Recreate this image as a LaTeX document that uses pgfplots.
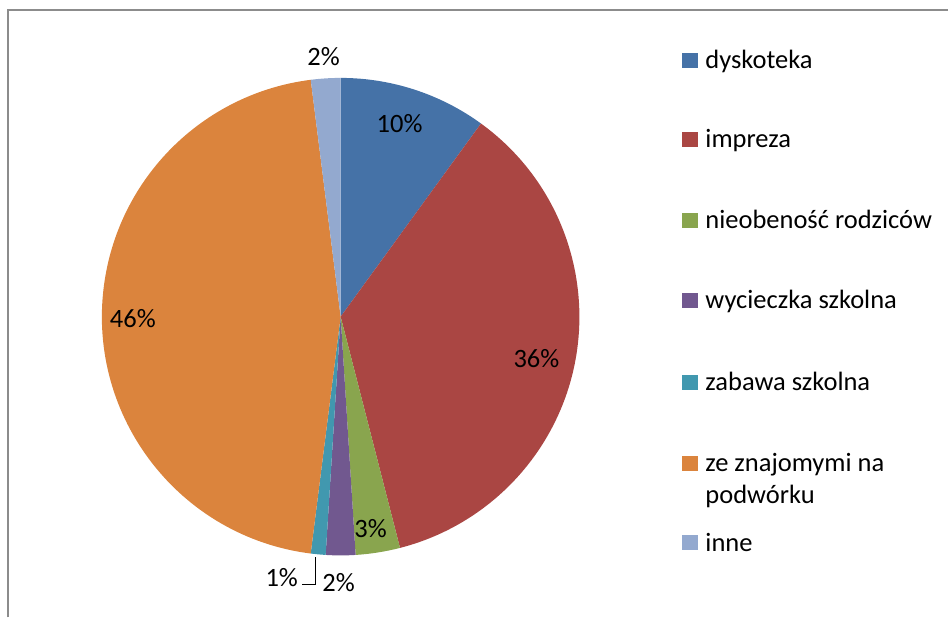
\documentclass[border=0pt]{standalone}
\usepackage{pgfplots}
\usepackage{pgfplotstable}
\pgfplotsset{compat=1.18}
\usepackage{fontspec}
\setmainfont{Carlito}
\definecolor{c1}{HTML}{4572A7}
\definecolor{c2}{HTML}{AA4643}
\definecolor{c3}{HTML}{89A54E}
\definecolor{c4}{HTML}{71588F}
\definecolor{c5}{HTML}{4198AF}
\definecolor{c6}{HTML}{DB843D}
\definecolor{c7}{HTML}{93A9CF}
\definecolor{framegray}{HTML}{8C8C8C}
\pgfplotstableread{
value color
10 c1
36 c2
3 c3
2 c4
1 c5
46 c6
2 c7
}\piedata
\newcommand{\legitem}[3]{%
  \fill[#2] (axis cs:683,{619-#1}) rectangle (axis cs:699,{634-#1});
  \node[anchor=base west, inner sep=0pt] at (axis cs:706,{618-#1}) {#3};}
\begin{document}
\begin{tikzpicture}
\fontsize{26.5}{31}\selectfont
\begin{axis}[x=1pt,y=1pt,xmin=0,xmax=949,ymin=0,ymax=618,
  hide axis, clip=false, scale only axis, anchor=origin, at={(0,0)}]
\path (axis cs:0,0) rectangle (axis cs:949,618);
\pgfmathsetmacro\startang{90}
\pgfplotsforeachungrouped \i in {0,...,6}{%
  \pgfplotstablegetelem{\i}{value}\of\piedata \let\slv\pgfplotsretval
  \pgfplotstablegetelem{\i}{color}\of\piedata \let\slcol\pgfplotsretval
  \pgfmathsetmacro\endang{\startang-3.6*\slv}%
  \edef\temp{\noexpand\fill[\slcol] (axis cs:341,301) -- ++(\startang:239pt) arc[start angle=\startang, end angle=\endang, radius=239pt] -- cycle;}%
  \temp
  \global\let\startang\endang
}
% frame
\draw[framegray, line width=2pt] (axis cs:8,0) -- (axis cs:8,608) -- (axis cs:949,608);
% data labels
\node[anchor=base] at (axis cs:400,485) {10\%};
\node[anchor=base] at (axis cs:537,250) {36\%};
\node[anchor=base] at (axis cs:371,80) {3\%};
\node[anchor=base] at (axis cs:339,26) {2\%};
\node[anchor=base] at (axis cs:282,31) {1\%};
\node[anchor=base] at (axis cs:133,290) {46\%};
\node[anchor=base] at (axis cs:324,552) {2\%};
\draw[black, line width=1.5pt] (axis cs:316,60) -- (axis cs:316,33) -- (axis cs:302,33);
% legend
\legitem{69}{c1}{dyskoteka}
\legitem{148}{c2}{impreza}
\legitem{229}{c3}{nieobeność rodziców}
\legitem{309}{c4}{wycieczka szkolna}
\legitem{391}{c5}{zabawa szkolna}
\legitem{472}{c6}{ze znajomymi na}
\legitem{552}{c7}{inne}
\node[anchor=base west, inner sep=0pt] at (axis cs:706,114) {podwórku};
\end{axis}
\end{tikzpicture}
\end{document}
